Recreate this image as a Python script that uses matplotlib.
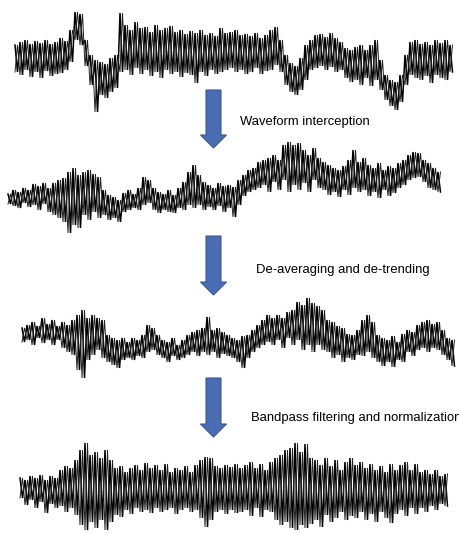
import matplotlib.pyplot as plt
from matplotlib.patches import FancyArrow
import numpy as np

# upper / lower extents of each recording, one pair every sample column
raw_hi = [12, 15, 17, 13, 16, 14, 17, 13, 15, 19,
          16, 27, 45, 43, 17, 2, -3, -5, -7, -1,
          2, 44, 32, 27, 35, 29, 30, 25, 32, 27,
          29, 31, 25, 27, 23, 26, 24, 27, 22, 24,
          21, 29, 24, 25, 27, 22, 23, 21, 24, 19,
          22, 27, 30, 17, 2, -6, -9, -1, 12, 17,
          22, 23, 20, 24, 19, 15, 9, 7, 10, 12,
          7, 12, 17, -3, -18, -23, -25, -18, 2, 15,
          17, 13, 15, 12, 17, 14, 17, 12]
raw_lo = [-15, -18, -13, -20, -15, -21, -14, -19, -17, -16,
          -13, -5, 17, 12, -9, -28, -55, -38, -41, -35,
          -31, -15, -13, -18, -11, -17, -13, -19, -15, -21,
          -13, -17, -15, -20, -16, -18, -26, -15, -19, -13,
          -17, -15, -13, -11, -15, -13, -17, -15, -11, -17,
          -14, -13, -8, -15, -28, -35, -38, -33, -23, -13,
          -11, -9, -13, -10, -15, -13, -21, -25, -23, -28,
          -21, -29, -23, -33, -43, -49, -53, -45, -28, -18,
          -21, -23, -19, -26, -18, -21, -23, -15]

cut_hi = [4, 8, 6, 10, 8, 14, 12, 15, 10, 15,
          18, 20, 26, 30, 23, 26, 28, 24, 21, 8,
          3, 1, -2, 5, 8, 4, 10, 21, 18, 10,
          6, 4, 8, 3, 10, 16, 26, 33, 23, 16,
          13, 10, 15, 12, 13, 11, 18, 23, 28, 30,
          36, 38, 40, 43, 38, 53, 56, 53, 55, 48,
          43, 50, 40, 36, 33, 30, 28, 32, 38, 48,
          36, 40, 33, 30, 35, 28, 32, 30, 35, 38,
          43, 46, 45, 38, 35, 30, 26]
cut_lo = [-6, -8, -10, -5, -9, -7, -12, -6, -14, -17,
          -20, -24, -35, -27, -30, -17, -22, -14, -20, -17,
          -22, -20, -24, -14, -12, -10, -12, -7, -5, -12,
          -15, -12, -14, -15, -10, -12, -7, -10, -7, -12,
          -9, -12, -8, -14, -10, -19, -7, 2, 6, 8,
          10, 13, 6, 16, 8, 18, 6, 13, 8, 15,
          6, 18, 10, 8, 3, 6, 1, 8, 3, 10,
          6, 8, 2, 6, 0, 8, 2, 5, 10, 13,
          18, 20, 21, 16, 10, 8, 6]

detr_hi = [12, 15, 18, 14, 22, 16, 20, 14, 18, 15,
           20, 25, 30, 22, 25, 22, 20, 5, 2, 0,
           2, -2, 2, 0, 5, 15, 12, 5, 0, -2,
           2, -5, 0, 5, 8, 10, 12, 23, 10, 12,
           8, 5, 2, 0, 4, 5, 10, 15, 20, 25,
           22, 25, 22, 28, 30, 38, 35, 42, 37, 34,
           30, 20, 18, 14, 12, 6, 5, 10, 20, 25,
           18, 5, 2, 0, 4, -2, 6, 10, 8, 15,
           18, 20, 16, 18, 10, 2, 0]
detr_lo = [-2, 0, -5, 2, -3, 0, -5, 0, -8, -12,
           -15, -30, -38, -20, -15, -10, -18, -22, -25, -28,
           -20, -18, -20, -16, -18, -12, -10, -15, -18, -22,
           -16, -20, -18, -15, -12, -16, -12, -15, -12, -18,
           -14, -16, -18, -22, -28, -18, -12, -8, -5, -2,
           -5, 0, -8, 2, -5, 0, -10, -5, -12, -5,
           -10, -12, -18, -15, -22, -18, -20, -15, -16, -12,
           -18, -22, -26, -22, -27, -20, -22, -12, -16, -10,
           -8, -12, -8, -10, -15, -20, -26]

band_hi = [12, 10, 14, 12, 15, 10, 14, 12, 20, 24,
           22, 30, 40, 47, 35, 38, 32, 40, 30, 22,
           24, 18, 22, 25, 20, 27, 22, 25, 20, 26,
           18, 22, 20, 24, 18, 25, 30, 33, 32, 24,
           22, 25, 23, 26, 22, 25, 28, 22, 26, 20,
           28, 32, 35, 40, 42, 47, 38, 46, 32, 30,
           25, 32, 24, 30, 20, 28, 32, 25, 28, 22,
           26, 20, 24, 18, 26, 20, 25, 28, 20, 26,
           18, 20, 16, 20, 14, 16]
band_lo = [-8, -15, -10, -18, -12, -23, -14, -18, -16, -22,
           -18, -25, -35, -40, -32, -38, -30, -40, -32, -25,
           -27, -20, -24, -18, -22, -20, -23, -18, -22, -20,
           -18, -24, -20, -18, -22, -20, -28, -37, -30, -22,
           -20, -24, -20, -23, -22, -20, -26, -18, -27, -20,
           -22, -30, -35, -32, -38, -40, -35, -38, -34, -30,
           -37, -25, -32, -28, -22, -30, -26, -28, -22, -30,
           -24, -32, -22, -28, -33, -24, -20, -26, -18, -24,
           -18, -22, -16, -20, -14, -16]

steps = ['Waveform interception',
         'De-averaging and de-trending',
         'Bandpass filtering and normalization']

W, H = 460, 534
fig = plt.figure(figsize=(W / 100, H / 100), dpi=100)
ax = fig.add_axes([0, 0, 1, 1])
ax.set_xlim(0, W)
ax.set_ylim(H, 0)
ax.axis('off')


def draw_trace(hi, lo, x0, yc, dx=5.0):
    hi = np.asarray(hi, float)
    lo = np.asarray(lo, float)
    n = len(hi)
    xa = x0 + dx * np.arange(n)
    xs = np.empty(2 * n)
    xs[0::2] = xa
    xs[1::2] = xa + dx / 2
    # peak-to-trough sweep, and the opposite phase to fill the band
    ya = np.empty(2 * n)
    ya[0::2] = yc - hi
    ya[1::2] = yc - lo
    yb = np.empty(2 * n)
    yb[0::2] = yc - lo
    yb[1::2] = yc - hi
    ax.plot(xs, ya, color='black', lw=1.1, solid_joinstyle='miter')
    ax.plot(xs, yb, color='#222222', lw=0.7, solid_joinstyle='miter')


draw_trace(raw_hi, raw_lo, 15, 57)
draw_trace(cut_hi, cut_lo, 8, 198)
draw_trace(detr_hi, detr_lo, 22, 340)
draw_trace(band_hi, band_lo, 20, 490)

# arrows between the stages, with labels
arrows = [(90, 148, 240, 122), (236, 295, 256, 270), (378, 437, 251, 418)]
for (y0, y1, tx, ty), label in zip(arrows, steps):
    ax.add_patch(FancyArrow(213.5, y0, 0, y1 - y0, width=15, head_width=26,
                            head_length=13, length_includes_head=True,
                            facecolor='#4a6cb3', edgecolor='#3a5896', lw=0.8))
    ax.text(tx, ty, label, fontsize=9.4, family='Liberation Sans',
            va='center', ha='left', color='black')

fig.savefig('out.png', dpi=100)
